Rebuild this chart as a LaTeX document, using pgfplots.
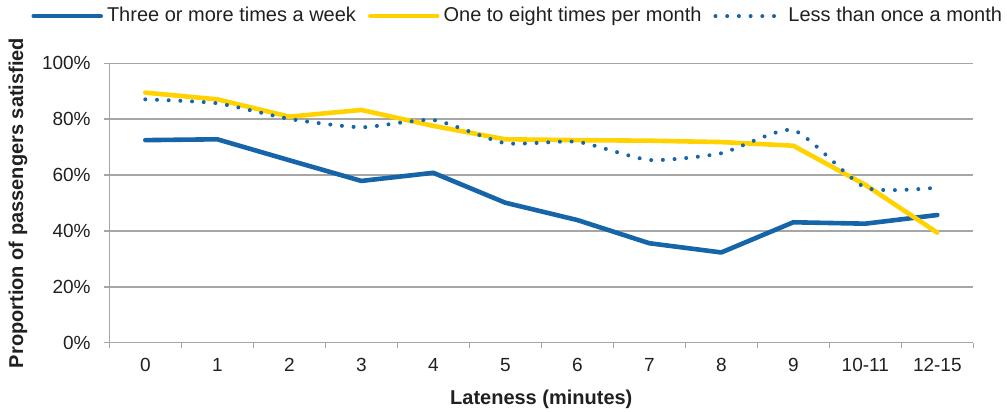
\documentclass[border=0pt]{standalone}
\usepackage{pgfplots}
\pgfplotsset{compat=1.18}
\usepackage{fontspec}
\setmainfont{Liberation Sans}
\definecolor{cblue}{RGB}{22,101,168}
\definecolor{cyellow}{RGB}{255,210,0}
\definecolor{cgrid}{RGB}{166,166,166}
\definecolor{ctext}{RGB}{35,31,32}
\begin{document}
\begin{tikzpicture}
\begin{axis}[
  scale only axis,
  width=432pt, height=139.7pt,
  xmin=-0.5, xmax=11.5, ymin=0, ymax=100,
  axis x line*=bottom, axis y line*=left,
  axis line style={cgrid, line width=0.75pt, -},
  xtick={0,...,11},
  xticklabels={0,1,2,3,4,5,6,7,8,9,10-11,12-15},
  major x tick style={draw=none},
  minor xtick={-0.5,0.5,...,11.5},
  minor x tick style={cgrid, line width=0.75pt},
  minor tick length=2.6pt,
  ytick={0,20,...,100},
  yticklabel={\pgfmathprintnumber{\tick}\%},
  major y tick style={cgrid, line width=0.75pt},
  major tick length=2.6pt,
  tick align=outside,
  ymajorgrids,
  grid style={cgrid, line width=0.75pt},
  /pgf/number format/assume math mode=true,
  tick label style={font=\fontsize{9.5}{11}\selectfont, text=ctext},
  yticklabel style={xshift=-3.2pt},
  xticklabel style={yshift=-1.5pt},
  xlabel={Lateness (minutes)},
  ylabel={Proportion of passengers satisfied},
  xlabel style={font=\bfseries\fontsize{10}{12}\selectfont, text=ctext, at={(axis description cs:0.5,-0.2015)}, anchor=center},
  ylabel style={font=\bfseries\fontsize{10}{12}\selectfont, text=ctext, at={(axis description cs:-0.1057,0.5)}, anchor=center},
  legend style={draw=none, fill=none, inner sep=0pt, at={(axis description cs:-0.0906,1.169)}, anchor=west,
    font=\fontsize{10}{12}\selectfont, text=ctext,
    /tikz/every even column/.append style={column sep=4pt}},
  legend columns=3,
  legend image code/.code={\draw[#1] (0pt,0pt) -- (33.5pt,0pt);},
  legend cell align=left,
]
\addplot[cblue, line width=2.3pt, line join=round, line cap=round] coordinates {
(0,72.5) (1,72.8) (2,65.3) (3,57.9) (4,60.8) (5,50.1) (6,43.9) (7,35.6) (8,32.3) (9,43.1) (10,42.6) (11,45.7)};
\addlegendentry{Three or more times a week}
\addplot[cyellow, line width=2.3pt, line join=round, line cap=round] coordinates {
(0,89.5) (1,87.1) (2,80.9) (3,83.3) (4,77.6) (5,72.8) (6,72.5) (7,72.3) (8,71.8) (9,70.5) (10,56.5) (11,39.4)};
\addlegendentry{One to eight times per month}
\addplot[cblue, line width=2pt, line cap=round, dash pattern=on 0pt off 5.85pt, smooth, tension=0.35] coordinates {
(0,87.1) (1,85.7) (2,80.1) (3,77.1) (4,79.7) (5,71.4) (6,71.9) (7,65.4) (8,67.8) (9,76.1) (10,55.5) (11,55.5)};
\addlegendentry{Less than once a month}
\end{axis}
\pgfresetboundingbox
\useasboundingbox ([shift={(-54.65pt,-34.65pt)}]current axis.south west) rectangle ++(503.5pt,206pt);
\end{tikzpicture}
\end{document}
